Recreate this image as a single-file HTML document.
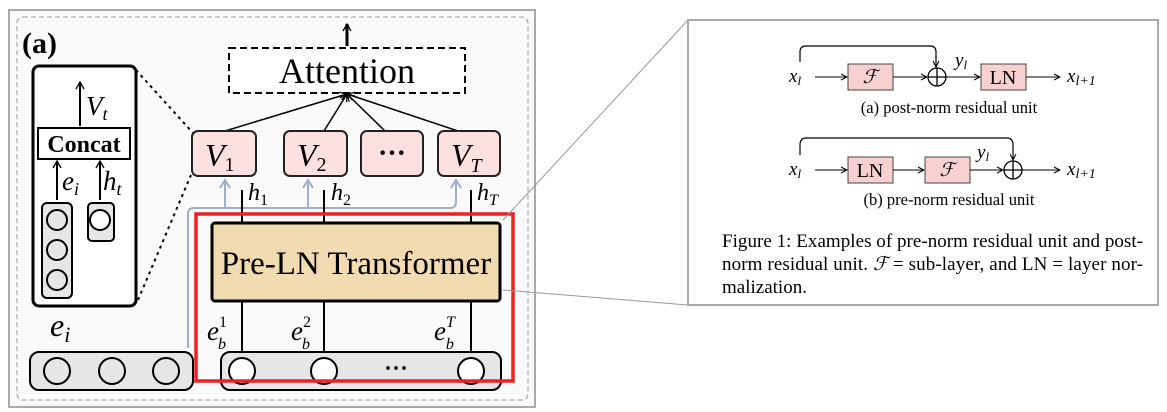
<!DOCTYPE html>
<html><head><style>body{margin:0;background:#fff}svg{display:block}text{font-family:"Liberation Serif",serif}</style></head><body>
<svg width="1167" height="412" viewBox="0 0 1167 412" xmlns="http://www.w3.org/2000/svg">
<defs>
<marker id="a" markerWidth="10" markerHeight="10" refX="8" refY="5" orient="auto" markerUnits="userSpaceOnUse"><path d="M1,1 L8,5 L1,9" fill="none" stroke="#000" stroke-width="1.3"/></marker>
<marker id="b" markerWidth="12" markerHeight="12" refX="9" refY="6" orient="auto" markerUnits="userSpaceOnUse"><path d="M1,1 L9,6 L1,11" fill="none" stroke="#9ab0cc" stroke-width="2"/></marker>
<marker id="s" markerWidth="8" markerHeight="8" refX="7" refY="4" orient="auto" markerUnits="userSpaceOnUse"><path d="M1,1 L7,4 L1,7" fill="none" stroke="#000" stroke-width="1"/></marker>
</defs>
<rect x="9" y="10" width="526" height="397" fill="#fafafa" stroke="#aaa" stroke-width="2"/>
<rect x="17" y="17" width="511" height="383" rx="6" fill="none" stroke="#999" stroke-dasharray="5,3"/>
<text x="22" y="53" font-size="30" font-weight="bold">(a)</text>
<!-- inset -->
<rect x="33" y="66" width="103" height="240" rx="6" fill="#fff" stroke="#000" stroke-width="3"/>
<line x1="136" y1="70" x2="193" y2="133" stroke="#000" stroke-width="2" stroke-dasharray="3,4"/>
<line x1="138" y1="300" x2="191" y2="175" stroke="#000" stroke-width="2" stroke-dasharray="3,4"/>
<line x1="80" y1="126" x2="80" y2="82" stroke="#000" stroke-width="2" marker-end="url(#a)"/>
<text x="86" y="115" font-size="27" font-style="italic">V<tspan font-size="18" dy="5">t</tspan></text>
<rect x="38" y="128" width="92" height="31" fill="#fff" stroke="#000" stroke-width="2"/>
<text x="84" y="152" font-size="24" font-weight="bold" text-anchor="middle">Concat</text>
<line x1="57" y1="200" x2="57" y2="161" stroke="#000" stroke-width="2" marker-end="url(#a)"/>
<line x1="100" y1="200" x2="100" y2="161" stroke="#000" stroke-width="2" marker-end="url(#a)"/>
<text x="62" y="190" font-size="27" font-style="italic">e<tspan font-size="18" dy="5">i</tspan></text>
<text x="103" y="190" font-size="27" font-style="italic">h<tspan font-size="18" dy="5">t</tspan></text>
<rect x="42" y="203" width="30" height="95" rx="5" fill="#e6e6e6" stroke="#000" stroke-width="2"/>
<circle cx="57" cy="220" r="10" fill="#e6e6e6" stroke="#000" stroke-width="2"/>
<circle cx="57" cy="250" r="10" fill="#e6e6e6" stroke="#000" stroke-width="2"/>
<circle cx="57" cy="280" r="10" fill="#e6e6e6" stroke="#000" stroke-width="2"/>
<rect x="88" y="203" width="26" height="38" rx="4" fill="#e6e6e6" stroke="#000" stroke-width="2"/>
<circle cx="100" cy="220" r="10" fill="#fff" stroke="#000" stroke-width="2"/>
<!-- attention -->
<line x1="347" y1="46" x2="347" y2="24" stroke="#000" stroke-width="3" marker-end="url(#a)"/>
<rect x="229" y="48" width="236" height="45" fill="#fff" stroke="#000" stroke-width="2" stroke-dasharray="7,4"/>
<text x="347" y="83" font-size="36" text-anchor="middle">Attention</text>
<g stroke="#000" stroke-width="1.5">
<line x1="225" y1="131" x2="347" y2="94" marker-end="url(#a)"/>
<line x1="324" y1="131" x2="347" y2="94" marker-end="url(#a)"/>
<line x1="385" y1="131" x2="347" y2="94" marker-end="url(#a)"/>
<line x1="458" y1="131" x2="347" y2="94" marker-end="url(#a)"/>
</g>
<g fill="#fde0e0" stroke="#222" stroke-width="2">
<rect x="192" y="131" width="64" height="45" rx="6"/>
<rect x="284" y="131" width="63" height="45" rx="6"/>
<rect x="361" y="131" width="62" height="45" rx="6"/>
<rect x="438" y="131" width="62" height="45" rx="6"/>
</g>
<text x="205" y="166" font-size="32" font-style="italic">V<tspan font-size="20" dy="5" font-style="normal">1</tspan></text>
<text x="297" y="166" font-size="32" font-style="italic">V<tspan font-size="20" dy="5" font-style="normal">2</tspan></text>
<text x="392" y="162" font-size="28" text-anchor="middle" font-weight="bold">···</text>
<text x="451" y="166" font-size="32" font-style="italic">V<tspan font-size="20" dy="6">T</tspan></text>
<!-- blue -->
<path d="M188,348 L188,214 Q188,208 194,208 L450,208 Q456,208 456,202 L456,180" fill="none" stroke="#9ab0cc" stroke-width="2" marker-end="url(#b)"/>
<line x1="225" y1="208" x2="225" y2="180" stroke="#9ab0cc" stroke-width="2" marker-end="url(#b)"/>
<line x1="308" y1="208" x2="308" y2="180" stroke="#9ab0cc" stroke-width="2" marker-end="url(#b)"/>
<g stroke="#000" stroke-width="2">
<line x1="242" y1="190" x2="242" y2="372"/>
<line x1="324" y1="190" x2="324" y2="372"/>
<line x1="471" y1="190" x2="471" y2="372"/>
</g>
<text x="248" y="200" font-size="24" font-style="italic">h<tspan font-size="16" dy="5" font-style="normal">1</tspan></text>
<text x="331" y="200" font-size="24" font-style="italic">h<tspan font-size="16" dy="5" font-style="normal">2</tspan></text>
<text x="477" y="200" font-size="24" font-style="italic">h<tspan font-size="16" dy="5">T</tspan></text>
<rect x="212" y="223" width="288" height="78" rx="3" fill="#f2dbb0" stroke="#000" stroke-width="3"/>
<text x="356" y="274" font-size="33" text-anchor="middle">Pre-LN Transformer</text>
<text x="207" y="340" font-size="27" font-style="italic">e<tspan font-size="16" dy="-13" font-style="normal">1</tspan><tspan font-size="16" dy="22" dx="-9">b</tspan></text>
<text x="291" y="340" font-size="27" font-style="italic">e<tspan font-size="16" dy="-13" font-style="normal">2</tspan><tspan font-size="16" dy="22" dx="-9">b</tspan></text>
<text x="434" y="340" font-size="27" font-style="italic">e<tspan font-size="16" dy="-13">T</tspan><tspan font-size="16" dy="22" dx="-9">b</tspan></text>
<text x="50" y="336" font-size="32" font-style="italic">e<tspan font-size="22" dy="6">i</tspan></text>
<rect x="30" y="352" width="163" height="38" rx="9" fill="#e6e6e6" stroke="#000" stroke-width="2"/>
<circle cx="57" cy="371" r="13" fill="#e6e6e6" stroke="#000" stroke-width="2"/>
<circle cx="112" cy="371" r="13" fill="#e6e6e6" stroke="#000" stroke-width="2"/>
<circle cx="166" cy="371" r="13" fill="#e6e6e6" stroke="#000" stroke-width="2"/>
<rect x="221" y="352" width="280" height="38" rx="9" fill="#e6e6e6" stroke="#000" stroke-width="2"/>
<circle cx="242" cy="371" r="13" fill="#fff" stroke="#000" stroke-width="2"/>
<circle cx="324" cy="371" r="13" fill="#fff" stroke="#000" stroke-width="2"/>
<circle cx="471" cy="371" r="13" fill="#fff" stroke="#000" stroke-width="2"/>
<text x="396" y="376" font-size="24" text-anchor="middle" font-weight="bold">···</text>
<rect x="196" y="214" width="317" height="167" fill="none" stroke="#f02020" stroke-width="3.5"/>
<!-- connectors -->
<line x1="503" y1="220" x2="688" y2="20" stroke="#999" stroke-width="1"/>
<line x1="503" y1="290" x2="688" y2="305" stroke="#999" stroke-width="1"/>
<!-- right panel -->
<rect x="688" y="20" width="470" height="285" fill="#fff" stroke="#aaa" stroke-width="2"/>
<g font-size="19">
<text x="789" y="82" font-style="italic">x<tspan font-size="13" dy="3">l</tspan></text>
<path d="M800,62 L800,52 Q800,46 806,46 L930,46 Q936,46 936,52 L936,67" fill="none" stroke="#000" stroke-width="1.2" marker-end="url(#s)"/>
<line x1="815" y1="77" x2="847" y2="77" stroke="#000" marker-end="url(#s)"/>
<rect x="848" y="64" width="45" height="26" fill="#f8d0d0" stroke="#444"/>
<text x="870" y="83" text-anchor="middle" font-style="italic">ℱ</text>
<line x1="893" y1="77" x2="927" y2="77" stroke="#000" marker-end="url(#s)"/>
<circle cx="937" cy="77" r="9" fill="none" stroke="#000" stroke-width="1.3"/><path d="M928,77 H946 M937,68 V86" stroke="#000" stroke-width="1.3"/>
<text x="955" y="66" font-style="italic">y<tspan font-size="13" dy="3">l</tspan></text>
<line x1="946" y1="77" x2="980" y2="77" stroke="#000" marker-end="url(#s)"/>
<rect x="981" y="64" width="45" height="26" fill="#f8d0d0" stroke="#444"/>
<text x="1003" y="84" text-anchor="middle" font-size="20">LN</text>
<line x1="1026" y1="77" x2="1060" y2="77" stroke="#000" marker-end="url(#s)"/>
<text x="1067" y="82" font-style="italic">x<tspan font-size="14" dy="3">l+1</tspan></text>
<text x="949" y="113" text-anchor="middle" font-size="16.5">(a) post-norm residual unit</text>
<text x="789" y="175" font-style="italic">x<tspan font-size="13" dy="3">l</tspan></text>
<path d="M800,155 L800,145 Q800,138 806,138 L1007,138 Q1013,138 1013,145 L1013,160" fill="none" stroke="#000" stroke-width="1.2" marker-end="url(#s)"/>
<line x1="815" y1="170" x2="847" y2="170" stroke="#000" marker-end="url(#s)"/>
<rect x="848" y="157" width="45" height="26" fill="#f8d0d0" stroke="#444"/>
<text x="870" y="177" text-anchor="middle" font-size="20">LN</text>
<line x1="893" y1="170" x2="924" y2="170" stroke="#000" marker-end="url(#s)"/>
<rect x="925" y="157" width="45" height="26" fill="#f8d0d0" stroke="#444"/>
<text x="947" y="176" text-anchor="middle" font-style="italic">ℱ</text>
<text x="977" y="158" font-style="italic">y<tspan font-size="13" dy="3">l</tspan></text>
<line x1="970" y1="170" x2="1003" y2="170" stroke="#000" marker-end="url(#s)"/>
<circle cx="1013" cy="170" r="9" fill="none" stroke="#000" stroke-width="1.3"/><path d="M1004,170 H1022 M1013,161 V179" stroke="#000" stroke-width="1.3"/>
<line x1="1022" y1="170" x2="1060" y2="170" stroke="#000" marker-end="url(#s)"/>
<text x="1067" y="175" font-style="italic">x<tspan font-size="14" dy="3">l+1</tspan></text>
<text x="949" y="205" text-anchor="middle" font-size="16.5">(b) pre-norm residual unit</text>
</g>
<g font-size="19">
<text x="722" y="247" textLength="421">Figure 1: Examples of pre-norm residual unit and post-</text>
<text x="722" y="270" textLength="421">norm residual unit. <tspan font-style="italic">ℱ</tspan> = sub-layer, and LN = layer nor-</text>
<text x="722" y="293">malization.</text>
</g>
</svg>
</body></html>
